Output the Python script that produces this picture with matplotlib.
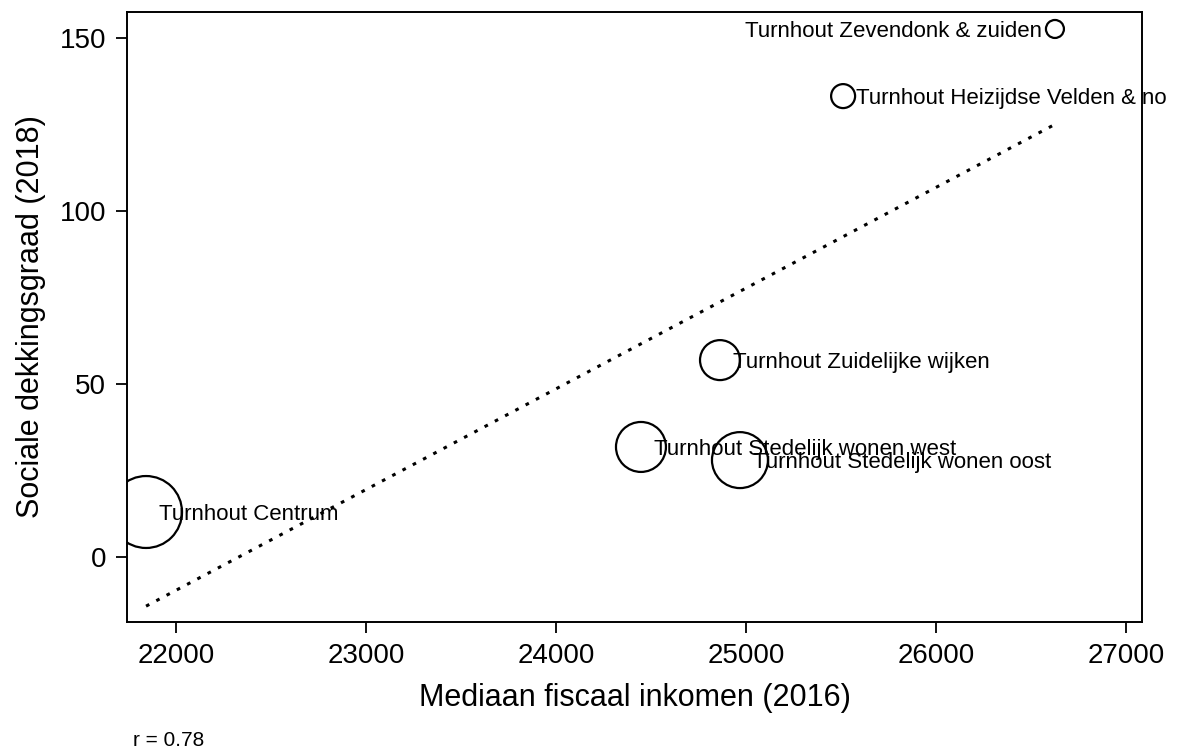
import numpy as np
import matplotlib
matplotlib.use('Agg')
import matplotlib.pyplot as plt

plt.rcParams['font.family'] = ['Liberation Sans', 'DejaVu Sans']

# wijken in Turnhout
wijken = ['Turnhout Centrum', 'Turnhout Stedelijk wonen west', 'Turnhout Stedelijk wonen oost',
          'Turnhout Zuidelijke wijken', 'Turnhout Heizijdse Velden & no', 'Turnhout Zevendonk & zuiden']
inkomen = [21842, 24447, 24968, 24863, 25511, 26626]   # mediaan fiscaal inkomen 2016
dekking = [13.0, 31.8, 28.0, 56.9, 133.2, 152.6]        # sociale dekkingsgraad 2018
gewicht = [1296, 625, 784, 400, 144, 81]                # bubbelgewicht
label_links = [False, False, False, False, False, True]

x = np.array(inkomen)
y = np.array(dekking)

fig = plt.figure(figsize=(11.83, 7.56), dpi=100)
ax = fig.add_axes([0.1074, 0.1772, 0.8579, 0.8069])

ax.scatter(x, y, s=np.array(gewicht) * 2.07, facecolors='none', edgecolors='black', linewidths=1.6, zorder=3)

# lineaire fit
b, a = np.polyfit(x, y, 1)
xs = np.array([x.min(), x.max()])
ax.plot(xs, a + b * xs, color='black', linestyle=(0, (1.2, 2.6)), linewidth=2.2)

for i in range(len(wijken)):
    if label_links[i]:
        ax.annotate(wijken[i], (x[i], y[i]), xytext=(-9.5, -1.5), textcoords='offset points',
                    ha='right', va='center', fontsize=16, annotation_clip=False)
    else:
        ax.annotate(wijken[i], (x[i], y[i]), xytext=(9.5, -1.5), textcoords='offset points',
                    ha='left', va='center', fontsize=16, annotation_clip=False)

ax.set_xlim(21742, 27084)
ax.set_ylim(-18.8, 157.5)
ax.set_xticks([22000, 23000, 24000, 25000, 26000, 27000])
ax.set_yticks([0, 50, 100, 150])
ax.tick_params(axis='both', direction='out', length=8, width=1.3, labelsize=20, pad=7)
for sp in ax.spines.values():
    sp.set_linewidth(1.4)

ax.set_xlabel('Mediaan fiscaal inkomen (2016)', fontsize=22, labelpad=10)
ax.set_ylabel('Sociale dekkingsgraad (2018)', fontsize=22, labelpad=10)

r = np.corrcoef(x, y)[0, 1]
fig.text(133 / 1183, 1 - 741 / 756, 'r = %.2f' % r, fontsize=15, ha='left', va='center')

fig.savefig('out.png', dpi=100)
